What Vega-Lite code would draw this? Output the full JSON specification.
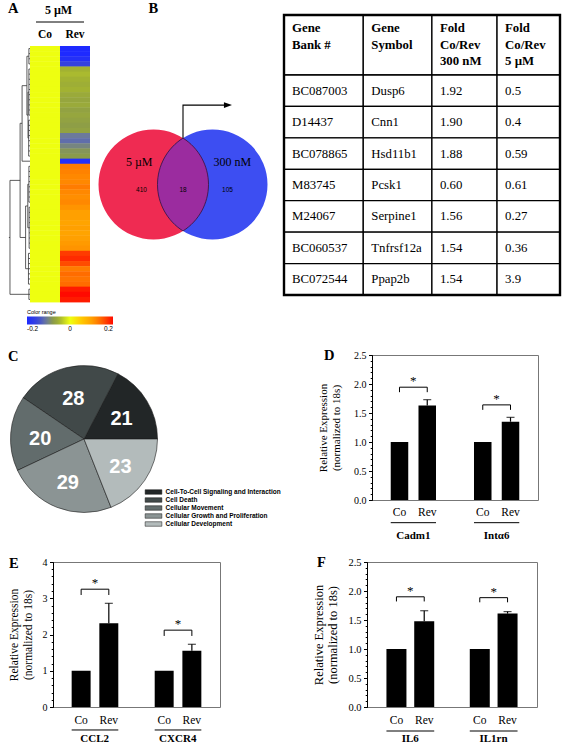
{
  "$schema": "https://vega.github.io/schema/vega-lite/v6.json",
  "background": "white",
  "padding": {"left": 8, "top": 0, "right": 0, "bottom": 0},
  "autosize": {"type": "pad"},
  "config": {"view": {"stroke": null}, "font": "Liberation Serif", "text": {"color": "black", "font": "Liberation Serif"}},
  "datasets": {
    "heat": [
      {"r":0,"Co":0,"Rev":-0.2,"lh":0.05},{"r":1,"Co":0,"Rev":-0.2,"lh":0.05},{"r":2,"Co":0,"Rev":-0.19,"lh":0.05},{"r":3,"Co":0,"Rev":-0.16,"lh":0.05},
      {"r":4,"Co":0,"Rev":-0.05,"lh":0.05},{"r":5,"Co":0,"Rev":-0.045,"lh":0.05},{"r":6,"Co":0,"Rev":-0.05,"lh":0.05},{"r":7,"Co":0,"Rev":-0.055,"lh":0.05},
      {"r":8,"Co":0,"Rev":-0.05,"lh":0.05},{"r":9,"Co":0,"Rev":-0.06,"lh":0.05},{"r":10,"Co":0,"Rev":-0.065,"lh":0.05},{"r":11,"Co":0,"Rev":-0.06,"lh":0.05},
      {"r":12,"Co":0,"Rev":-0.07,"lh":0.05},{"r":13,"Co":0,"Rev":-0.065,"lh":0.05},{"r":14,"Co":0,"Rev":-0.07,"lh":0.06},{"r":15,"Co":0,"Rev":-0.075,"lh":0.06},
      {"r":16,"Co":0,"Rev":-0.07,"lh":0.06},{"r":17,"Co":0,"Rev":-0.11,"lh":0.06},{"r":18,"Co":0,"Rev":-0.12,"lh":0.06},{"r":19,"Co":0,"Rev":-0.1,"lh":0.06},
      {"r":20,"Co":0,"Rev":-0.085,"lh":0.06},{"r":21,"Co":0,"Rev":-0.08,"lh":0.06},{"r":22,"Co":0,"Rev":-0.19,"lh":0.36},{"r":23,"Co":0,"Rev":0.13,"lh":0.05},
      {"r":24,"Co":0,"Rev":0.125,"lh":0.05},{"r":25,"Co":0,"Rev":0.12,"lh":0.05},{"r":26,"Co":0,"Rev":0.12,"lh":0.05},{"r":27,"Co":0,"Rev":0.13,"lh":0.05},
      {"r":28,"Co":0,"Rev":0.12,"lh":0.05},{"r":29,"Co":0,"Rev":0.115,"lh":0.05},{"r":30,"Co":0,"Rev":0.12,"lh":0.05},{"r":31,"Co":0,"Rev":0.11,"lh":0.04},
      {"r":32,"Co":0,"Rev":0.1,"lh":0.04},{"r":33,"Co":0,"Rev":0.1,"lh":0.04},{"r":34,"Co":0,"Rev":0.095,"lh":0.04},{"r":35,"Co":0,"Rev":0.1,"lh":0.04},
      {"r":36,"Co":0,"Rev":0.095,"lh":0.04},{"r":37,"Co":0,"Rev":0.1,"lh":0.04},{"r":38,"Co":0,"Rev":0.105,"lh":0.04},{"r":39,"Co":0,"Rev":0.11,"lh":0.04},
      {"r":40,"Co":0,"Rev":0.17,"lh":0.07},{"r":41,"Co":0,"Rev":0.18,"lh":0.07},{"r":42,"Co":0,"Rev":0.16,"lh":0.07},{"r":43,"Co":0,"Rev":0.13,"lh":0.07},
      {"r":44,"Co":0,"Rev":0.14,"lh":0.07},{"r":45,"Co":0,"Rev":0.135,"lh":0.07},{"r":46,"Co":0,"Rev":0.14,"lh":0.07},{"r":47,"Co":0,"Rev":0.19,"lh":0.05},
      {"r":48,"Co":0,"Rev":0.2,"lh":0.05},{"r":49,"Co":0,"Rev":0.19,"lh":0.05}
    ],
    "dendro": [
      {"h1":0.05,"h2":0.05,"r1":0.5,"r2":3.5},{"h1":0.05,"h2":0.05,"r1":4.5,"r2":13.5},{"h1":0.06,"h2":0.06,"r1":14.5,"r2":21.5},
      {"h1":0.09,"h2":0.09,"r1":9.0,"r2":18.0},{"h1":0.14,"h2":0.14,"r1":2.0,"r2":13.5},{"h1":0.36,"h2":0.36,"r1":7.75,"r2":22.5},
      {"h1":0.05,"h2":0.05,"r1":23.5,"r2":30.5},{"h1":0.04,"h2":0.04,"r1":31.5,"r2":39.5},{"h1":0.1,"h2":0.1,"r1":27.0,"r2":35.5},
      {"h1":0.07,"h2":0.07,"r1":40.5,"r2":46.5},{"h1":0.2,"h2":0.2,"r1":31.25,"r2":43.5},{"h1":0.45,"h2":0.45,"r1":15.1,"r2":37.4},
      {"h1":0.05,"h2":0.05,"r1":47.5,"r2":49.5},{"h1":0.91,"h2":0.91,"r1":26.25,"r2":48.5},
      {"h1":0.05,"h2":0.09,"r1":9.0,"r2":9.0},{"h1":0.06,"h2":0.09,"r1":18.0,"r2":18.0},{"h1":0.05,"h2":0.14,"r1":2.0,"r2":2.0},
      {"h1":0.09,"h2":0.14,"r1":13.5,"r2":13.5},{"h1":0.14,"h2":0.36,"r1":7.75,"r2":7.75},{"h1":0.05,"h2":0.1,"r1":27.0,"r2":27.0},
      {"h1":0.04,"h2":0.1,"r1":35.5,"r2":35.5},{"h1":0.1,"h2":0.2,"r1":31.25,"r2":31.25},{"h1":0.07,"h2":0.2,"r1":43.5,"r2":43.5},
      {"h1":0.36,"h2":0.45,"r1":15.1,"r2":15.1},{"h1":0.2,"h2":0.45,"r1":37.4,"r2":37.4},{"h1":0.45,"h2":0.91,"r1":26.25,"r2":26.25},
      {"h1":0.05,"h2":0.91,"r1":48.5,"r2":48.5},{"h1":0.91,"h2":0.96,"r1":37.4,"r2":37.4}
    ],
    "venn": [{"set":"5 µM","n":410},{"set":"both","n":18},{"set":"300 nM","n":105}],
    "table": [
      {"bank":"BC087003","sym":"Dusp6","f300":"1.92","f5":"0.5"},
      {"bank":"D14437","sym":"Cnn1","f300":"1.90","f5":"0.4"},
      {"bank":"BC078865","sym":"Hsd11b1","f300":"1.88","f5":"0.59"},
      {"bank":"M83745","sym":"Pcsk1","f300":"0.60","f5":"0.61"},
      {"bank":"M24067","sym":"Serpine1","f300":"1.56","f5":"0.27"},
      {"bank":"BC060537","sym":"Tnfrsf12a","f300":"1.54","f5":"0.36"},
      {"bank":"BC072544","sym":"Ppap2b","f300":"1.54","f5":"3.9"}
    ],
    "thead": [
      {"key":"bank","label":"Gene\nBank #"},{"key":"sym","label":"Gene\nSymbol"},
      {"key":"f300","label":"Fold\nCo/Rev\n300 nM"},{"key":"f5","label":"Fold\nCo/Rev\n5 µM"}
    ],
    "pie": [
      {"cat":"Cell-To-Cell Signaling and Interaction","n":21,"idx":1},
      {"cat":"Cell Death","n":28,"idx":2},
      {"cat":"Cellular Movement","n":20,"idx":3},
      {"cat":"Cellular Growth and Proliferation","n":29,"idx":4},
      {"cat":"Cellular Development","n":23,"idx":5}
    ],
    "bars": [
      {"panel":"D","gene":"Cadm1","cond":"Co","mean":1.0,"err":0},
      {"panel":"D","gene":"Cadm1","cond":"Rev","mean":1.63,"err":0.1},
      {"panel":"D","gene":"Intα6","cond":"Co","mean":1.0,"err":0},
      {"panel":"D","gene":"Intα6","cond":"Rev","mean":1.35,"err":0.075},
      {"panel":"E","gene":"CCL2","cond":"Co","mean":1.0,"err":0},
      {"panel":"E","gene":"CCL2","cond":"Rev","mean":2.31,"err":0.55},
      {"panel":"E","gene":"CXCR4","cond":"Co","mean":1.0,"err":0},
      {"panel":"E","gene":"CXCR4","cond":"Rev","mean":1.55,"err":0.18},
      {"panel":"F","gene":"IL6","cond":"Co","mean":1.0,"err":0},
      {"panel":"F","gene":"IL6","cond":"Rev","mean":1.48,"err":0.18},
      {"panel":"F","gene":"IL1rn","cond":"Co","mean":1.0,"err":0},
      {"panel":"F","gene":"IL1rn","cond":"Rev","mean":1.61,"err":0.035}
    ]
  },
  "spacing": 0,
  "vconcat": [
    {
      "spacing": 0, "bounds": "flush",
      "hconcat": [
        {
          "width": 22, "height": 287,
          "title": {"text": "A", "anchor": "start", "frame": "group", "offset": 0, "dx": 0, "dy": 12.5, "baseline": "alphabetic", "font": "Liberation Serif", "fontSize": 14.5, "fontWeight": "bold", "color": "black"},
          "layer": [
            {"data": {"name": "dendro"}, "mark": {"type": "rule", "color": "#333", "strokeWidth": 0.8},
             "encoding": {
               "x": {"field": "h1", "type": "quantitative", "scale": {"domain": [0, 1], "reverse": true, "nice": false, "zero": false}, "axis": null},
               "x2": {"field": "h2"},
               "y": {"field": "r1", "type": "quantitative", "scale": {"domain": [-6.05, 50], "reverse": true, "nice": false, "zero": false}, "axis": null},
               "y2": {"field": "r2"}}},
            {"data": {"name": "heat"}, "transform": [{"calculate": "datum.r + 0.5", "as": "rc"}, {"calculate": "0", "as": "h0"}],
             "mark": {"type": "rule", "color": "#333", "strokeWidth": 0.8},
             "encoding": {"x": {"field": "h0", "type": "quantitative"}, "x2": {"field": "lh"}, "y": {"field": "rc", "type": "quantitative"}}}
          ]
        },
        {
          "width": 60, "height": 287,
          "layer": [
            {"data": {"name": "heat"},
             "transform": [{"fold": ["Co", "Rev"], "as": ["cond", "v"]}, {"calculate": "datum.r + 1.08", "as": "r2"}],
             "mark": {"type": "rect", "strokeWidth": 0},
             "encoding": {
               "x": {"field": "cond", "type": "nominal", "scale": {"domain": ["Co", "Rev"], "paddingInner": 0, "paddingOuter": 0}, "axis": null},
               "y": {"field": "r", "type": "quantitative", "scale": {"domain": [-6.05, 50], "reverse": true, "nice": false, "zero": false}, "axis": null},
               "y2": {"field": "r2"},
               "color": {"field": "v", "type": "quantitative",
                 "scale": {"domain": [-0.2, -0.15, -0.11, -0.08, -0.05, 0, 0.05, 0.1, 0.13, 0.16, 0.2],
                           "range": ["#1e2aff", "#3a48d8", "#6c7a9c", "#8a9a4a", "#a2b232", "#eeff10", "#ffcc00", "#ffa000", "#ff7c00", "#ff4c00", "#ff0a00"], "interpolate": "rgb"},
                 "legend": {"orient": "none", "legendX": -3, "legendY": 295, "direction": "horizontal", "gradientLength": 86, "gradientThickness": 8,
                   "title": "Color range", "titleFont": "Liberation Sans", "titleFontSize": 5.5, "titleFontWeight": "normal", "titleColor": "black", "titlePadding": 1,
                   "labelFont": "Liberation Sans", "labelFontSize": 6.5, "labelColor": "black", "values": [-0.2, 0, 0.2], "labelOffset": 1, "gradientStrokeWidth": 0,
                   "labelExpr": "replace(format(datum.value, '.1~f'), '−', '-')"}}}},
            {"data": {"values": [{"cond": "Co"}, {"cond": "Rev"}]},
             "mark": {"type": "text", "fontWeight": "bold", "fontSize": 11.5, "baseline": "middle", "color": "black"},
             "encoding": {"x": {"field": "cond", "type": "nominal"}, "y": {"datum": -2.1}, "text": {"field": "cond"}}},
            {"data": {"values": [{"cond": "Rev", "lab": "5 µM"}]},
             "mark": {"type": "text", "fontWeight": "bold", "fontSize": 12, "baseline": "middle", "color": "black", "dx": -1.5},
             "encoding": {"x": {"field": "cond", "type": "nominal", "bandPosition": 0}, "y": {"datum": -7.12}, "text": {"field": "lab"}}},
            {"data": {"values": [{"a": "Co", "b": "Rev"}]},
             "mark": {"type": "rule", "color": "black", "strokeWidth": 1},
             "encoding": {"x": {"field": "a", "type": "nominal", "bandPosition": 0.2}, "x2": {"field": "b", "bandPosition": 0.8}, "y": {"datum": -4.68}}}
          ]
        },
        {"width": 33.5, "height": 10, "data": {"values": [{"e": 0}]}, "mark": {"type": "point", "opacity": 0}, "encoding": {}},
        {
          "width": 118, "height": 330.9,
          "view": {"stroke": "transparent"},
          "title": {"text": "B", "anchor": "start", "frame": "group", "offset": 0, "dx": 24.5, "dy": 12.5, "baseline": "alphabetic", "font": "Liberation Serif", "fontSize": 14.5, "fontWeight": "bold", "color": "black"},
          "data": {"name": "venn"},
          "layer": [
            {"transform": [{"filter": "datum.set !== 'both'"}],
             "mark": {"type": "point", "shape": "circle", "filled": true, "size": 12100, "opacity": 1, "strokeWidth": 0},
             "encoding": {
               "x": {"field": "set", "type": "nominal", "scale": {"type": "point", "domain": ["5 µM", "both", "300 nM"], "padding": 1, "align": 0.5}, "axis": null},
               "y": {"datum": 0, "type": "quantitative", "scale": {"domain": [-3.074, 3.229], "nice": false, "zero": false}, "axis": null},
               "color": {"field": "set", "type": "nominal", "scale": {"domain": ["5 µM", "300 nM"], "range": ["#ef2b52", "#3d4ef2"]}, "legend": null}}},
            {"transform": [{"filter": "datum.set === 'both'"}],
             "mark": {"type": "point", "shape": "M0,-0.844A1,1,0,0,1,0,0.844A1,1,0,0,1,0,-0.844Z", "filled": true, "size": 12100, "opacity": 1, "fill": "#9b2c9f", "stroke": "#3b1038", "strokeWidth": 0.8},
             "encoding": {"x": {"field": "set", "type": "nominal"}, "y": {"datum": 0, "type": "quantitative"}}},
            {"transform": [{"filter": "datum.set !== 'both'"}],
             "mark": {"type": "text", "fontSize": 12, "baseline": "middle", "color": "black", "align": {"expr": "datum.set === '5 µM' ? 'right' : 'left'"}, "dx": {"expr": "datum.set === '5 µM' ? -1 : 1"}},
             "encoding": {"x": {"field": "set", "type": "nominal"}, "y": {"datum": 0.43, "type": "quantitative"}, "text": {"field": "set"}}},
            {"mark": {"type": "text", "font": "Liberation Sans", "fontSize": 6.5, "baseline": "middle", "color": "black", "dx": {"expr": "datum.set === '5 µM' ? -12 : (datum.set === '300 nM' ? 15 : 0)"}},
             "encoding": {"x": {"field": "set", "type": "nominal"}, "y": {"datum": -0.105, "type": "quantitative"}, "text": {"field": "n"}}},
            {"transform": [{"filter": "datum.set === 'both'"}],
             "mark": {"type": "point", "shape": "M0,0V-1H1.27", "filled": false, "size": 4356, "stroke": "black", "strokeWidth": 1.1, "opacity": 1},
             "encoding": {"x": {"field": "set", "type": "nominal"}, "y": {"datum": 0.884, "type": "quantitative"}}},
            {"transform": [{"filter": "datum.set === 'both'"}],
             "mark": {"type": "point", "shape": "M1.24,-1.09L1.485,-1L1.24,-0.91Z", "filled": true, "size": 4356, "fill": "black", "opacity": 1, "strokeWidth": 0},
             "encoding": {"x": {"field": "set", "type": "nominal"}, "y": {"datum": 0.884, "type": "quantitative"}}}
          ]
        },
        {"width": 41.5, "height": 10, "data": {"values": [{"e": 0}]}, "mark": {"type": "point", "opacity": 0}, "encoding": {}},
        {
          "width": 276, "height": 280,
          "layer": [
            {"data": {"name": "thead"},
             "transform": [{"calculate": "indexof(['bank','sym','f300','f5'], datum.key)", "as": "c"}, {"calculate": "datum.c + 1", "as": "c2"},
               {"calculate": "0", "as": "t0"}, {"calculate": "1.909", "as": "t1"}],
             "mark": {"type": "rect", "fill": "white", "stroke": "black", "strokeWidth": 1.3},
             "encoding": {
               "x": {"field": "c", "type": "quantitative", "scale": {"type": "pow", "exponent": 0.9, "domain": [0, 4], "nice": false}, "axis": null},
               "x2": {"field": "c2"},
               "y": {"field": "t0", "type": "quantitative", "scale": {"domain": [0, 8.909], "reverse": true, "nice": false, "zero": false}, "axis": null},
               "y2": {"field": "t1"}}},
            {"data": {"name": "thead"},
             "transform": [{"calculate": "indexof(['bank','sym','f300','f5'], datum.key)", "as": "c"}, {"calculate": "0.541", "as": "ty"}],
             "mark": {"type": "text", "align": "left", "baseline": "alphabetic", "dx": 8, "fontSize": 12.8, "fontWeight": "bold", "lineBreak": "\n", "lineHeight": 16.5, "color": "black"},
             "encoding": {"x": {"field": "c", "type": "quantitative"}, "y": {"field": "ty", "type": "quantitative"}, "text": {"field": "label"}}},
            {"data": {"name": "table"},
             "transform": [{"window": [{"op": "row_number", "as": "rn"}]}, {"fold": ["bank", "sym", "f300", "f5"], "as": ["key", "value"]},
               {"calculate": "indexof(['bank','sym','f300','f5'], datum.key)", "as": "c"}, {"calculate": "datum.c + 1", "as": "c2"},
               {"calculate": "0.909 + datum.rn", "as": "y0"}, {"calculate": "datum.y0 + 1", "as": "y1"}],
             "mark": {"type": "rect", "fill": "white", "stroke": "black", "strokeWidth": 1.3},
             "encoding": {"x": {"field": "c", "type": "quantitative"}, "x2": {"field": "c2"}, "y": {"field": "y0", "type": "quantitative"}, "y2": {"field": "y1"}}},
            {"data": {"name": "table"},
             "transform": [{"window": [{"op": "row_number", "as": "rn"}]}, {"fold": ["bank", "sym", "f300", "f5"], "as": ["key", "value"]},
               {"calculate": "indexof(['bank','sym','f300','f5'], datum.key)", "as": "c"}, {"calculate": "0.909 + datum.rn + 0.5", "as": "yc"}],
             "mark": {"type": "text", "align": "left", "baseline": "middle", "dx": 8, "fontSize": 12.8, "color": "black"},
             "encoding": {"x": {"field": "c", "type": "quantitative"}, "y": {"field": "yc", "type": "quantitative"}, "text": {"field": "value"}}},
            {"data": {"values": [{"part": "frame"}]},
             "transform": [{"calculate": "0", "as": "fx0"}, {"calculate": "4", "as": "fx1"}, {"calculate": "0", "as": "fy0"}, {"calculate": "8.909", "as": "fy1"}],
             "mark": {"type": "rect", "filled": false, "stroke": "black", "strokeWidth": 2.4},
             "encoding": {"x": {"field": "fx0", "type": "quantitative"}, "x2": {"field": "fx1"}, "y": {"field": "fy0", "type": "quantitative"}, "y2": {"field": "fy1"}}}
          ]
        }
      ]
    },
    {
      "spacing": 0, "bounds": "flush",
      "hconcat": [
        {
          "width": 152, "height": 168,
          "title": {"text": "C", "anchor": "start", "frame": "group", "offset": 0, "dx": 0, "dy": 20, "baseline": "alphabetic", "font": "Liberation Serif", "fontSize": 14.5, "fontWeight": "bold", "color": "black"},
          "data": {"name": "pie"},
          "layer": [
            {"mark": {"type": "arc", "outerRadius": 73.5, "stroke": "#1b1b1b", "strokeWidth": 0.6},
             "encoding": {
               "theta": {"field": "n", "type": "quantitative", "stack": true, "scale": {"range": [1.5708, 7.854]}},
               "order": {"field": "idx", "type": "quantitative", "sort": "descending"},
               "color": {"field": "cat", "type": "nominal",
                 "scale": {"domain": ["Cell-To-Cell Signaling and Interaction", "Cell Death", "Cellular Movement", "Cellular Growth and Proliferation", "Cellular Development"],
                           "range": ["#222627", "#414949", "#626c6c", "#8b9494", "#b3bbbb"]},
                 "legend": {"orient": "none", "legendX": 141, "legendY": 472.5, "title": null, "symbolType": "M-2,-0.54H2V0.54H-2Z", "symbolSize": 69.7,
                   "symbolStrokeColor": "#111", "symbolStrokeWidth": 0.5, "labelFont": "Liberation Sans", "labelFontSize": 6.5, "labelFontWeight": "bold",
                   "labelColor": "black", "labelOffset": 7.6, "rowPadding": 0, "labelLimit": 300}}}},
            {"mark": {"type": "text", "radius": 44, "dy": 3, "font": "Liberation Sans", "fontSize": 20, "fontWeight": "bold", "color": "white", "baseline": "middle"},
             "encoding": {"theta": {"field": "n", "type": "quantitative", "stack": true}, "order": {"field": "idx", "type": "quantitative", "sort": "descending"}, "text": {"field": "n", "type": "quantitative"}}}
          ]
        },
        {"width": 212, "height": 198.4, "view": {"stroke": "transparent"}, "data": {"values": [{"e": 0}]}, "mark": {"type": "point", "opacity": 0}, "encoding": {}},
        {
          "width": 166, "height": 145,
          "view": {"stroke": "#777"},
          "title": {"text": "D", "anchor": "start", "frame": "group", "offset": 0, "dx": -48, "dy": 24, "baseline": "alphabetic", "font": "Liberation Serif", "fontSize": 14.5, "fontWeight": "bold", "color": "black"},
          "data": {"name": "bars"},
          "transform": [
            {"filter": "datum.panel === 'D'"},
            {"calculate": "datum.gene + '|' + datum.cond", "as": "key"},
            {"calculate": "datum.gene + '|Co'", "as": "coKey"},
            {"calculate": "datum.mean + datum.err", "as": "top"},
            {"joinaggregate": [{"op": "max", "field": "top", "as": "gtop"}], "groupby": ["gene"]},
            {"calculate": "datum.gtop + 0.215", "as": "b"},
            {"calculate": "datum.b - 0.086", "as": "bd"},
            {"calculate": "datum.b + 0.1", "as": "ast"}
          ],
          "resolve": {"axis": {"y": "independent"}},
          "layer": [
            {"mark": {"type": "bar", "color": "black"},
             "encoding": {
               "x": {"field": "key", "type": "nominal", "scale": {"domain": ["Cadm1|Co", "Cadm1|Rev", "gap", "Intα6|Co", "Intα6|Rev"], "paddingInner": 0.369, "paddingOuter": 0.675}, "axis": null},
               "y": {"field": "mean", "type": "quantitative", "scale": {"domain": [0, 2.5], "nice": false},
                 "axis": {"orient": "left", "values": [0, 0.5, 1, 1.5, 2, 2.5], "format": ".1f", "tickSize": 3.5,
                   "grid": false, "domainColor": "black", "tickColor": "black", "labelColor": "black", "labelFont": "Liberation Serif", "labelFontSize": 10,
                   "labelPadding": 2.5, "labelOverlap": false, "labelBound": false, "labelFlush": false,
                   "title": ["Relative Expression", "(normalized to 18s)"], "titleFont": "Liberation Serif", "titleFontSize": 11, "titleFontWeight": "normal",
                   "titleColor": "black", "titlePadding": 12, "titleLineHeight": 13.5}}}},
            {"transform": [{"filter": "datum.err > 0"}], "mark": {"type": "rule", "color": "black", "strokeWidth": 1.2},
             "encoding": {"x": {"field": "key", "type": "nominal"},
               "y": {"field": "mean", "type": "quantitative", "axis": {"orient": "left", "values": [0,0.1,0.2,0.3,0.4,0.5,0.6,0.7,0.8,0.9,1,1.1,1.2,1.3,1.4,1.5,1.6,1.7,1.8,1.9,2,2.1,2.2,2.3,2.4,2.5], "labels": false, "domain": false, "tickSize": 1.8, "tickColor": "black", "title": null, "grid": false}},
               "y2": {"field": "top"}}},
            {"transform": [{"filter": "datum.err > 0"}], "mark": {"type": "tick", "color": "black", "thickness": 1.2, "size": 8},
             "encoding": {"x": {"field": "key", "type": "nominal"}, "y": {"field": "top", "type": "quantitative", "axis": null}}},
            {"mark": {"type": "rule", "color": "black", "strokeWidth": 1},
             "encoding": {"x": {"field": "key", "type": "nominal"}, "y": {"field": "b", "type": "quantitative", "axis": null}, "y2": {"field": "bd"}}},
            {"transform": [{"filter": "datum.cond === 'Rev'"}], "mark": {"type": "rule", "color": "black", "strokeWidth": 1},
             "encoding": {"x": {"field": "coKey", "type": "nominal", "bandPosition": 0.5}, "x2": {"field": "key", "bandPosition": 0.5}, "y": {"field": "b", "type": "quantitative", "axis": null}}},
            {"transform": [{"filter": "datum.cond === 'Rev'"}], "mark": {"type": "text", "text": "*", "dx": -13.9, "fontSize": 13, "baseline": "middle", "color": "black"},
             "encoding": {"x": {"field": "key", "type": "nominal"}, "y": {"field": "ast", "type": "quantitative", "axis": null}}},
            {"mark": {"type": "text", "fontSize": 11.5, "baseline": "middle", "color": "black"},
             "encoding": {"x": {"field": "key", "type": "nominal"}, "y": {"datum": -0.229, "type": "quantitative", "axis": null}, "text": {"field": "cond"}}},
            {"transform": [{"filter": "datum.cond === 'Rev'"}], "mark": {"type": "rule", "color": "black", "strokeWidth": 1},
             "encoding": {"x": {"field": "coKey", "type": "nominal", "bandPosition": 0}, "x2": {"field": "key", "bandPosition": 1}, "y": {"datum": -0.391, "type": "quantitative", "axis": null}}},
            {"transform": [{"filter": "datum.cond === 'Rev'"}], "mark": {"type": "text", "dx": -13.9, "fontSize": 11, "fontWeight": "bold", "baseline": "middle", "color": "black"},
             "encoding": {"x": {"field": "key", "type": "nominal"}, "y": {"datum": -0.618, "type": "quantitative", "axis": null}, "text": {"field": "gene"}}}
          ]
        }
      ]
    },
    {
      "spacing": 0, "bounds": "flush",
      "hconcat": [
        {"width": 45, "height": 145, "data": {"values": [{"e": 0}]}, "mark": {"type": "point", "opacity": 0}, "encoding": {}},
        {
          "width": 167, "height": 145,
          "view": {"stroke": "#777"},
          "title": {"text": "E", "anchor": "start", "frame": "group", "offset": 0, "dx": -44, "dy": 25, "baseline": "alphabetic", "font": "Liberation Serif", "fontSize": 14.5, "fontWeight": "bold", "color": "black"},
          "data": {"name": "bars"},
          "transform": [
            {"filter": "datum.panel === 'E'"},
            {"calculate": "datum.gene + '|' + datum.cond", "as": "key"},
            {"calculate": "datum.gene + '|Co'", "as": "coKey"},
            {"calculate": "datum.mean + datum.err", "as": "top"},
            {"joinaggregate": [{"op": "max", "field": "top", "as": "gtop"}], "groupby": ["gene"]},
            {"calculate": "datum.gtop + 0.39", "as": "b"},
            {"calculate": "datum.b - 0.16", "as": "bd"},
            {"calculate": "datum.b + 0.17", "as": "ast"}
          ],
          "resolve": {"axis": {"y": "independent"}},
          "layer": [
            {"mark": {"type": "bar", "color": "black"},
             "encoding": {
               "x": {"field": "key", "type": "nominal", "scale": {"domain": ["CCL2|Co", "CCL2|Rev", "gap", "CXCR4|Co", "CXCR4|Rev"], "paddingInner": 0.315, "paddingOuter": 0.674}, "axis": null},
               "y": {"field": "mean", "type": "quantitative", "scale": {"domain": [0, 4], "nice": false},
                 "axis": {"orient": "left", "values": [0, 1, 2, 3, 4], "format": "d", "tickSize": 3.5,
                   "grid": false, "domainColor": "black", "tickColor": "black", "labelColor": "black", "labelFont": "Liberation Serif", "labelFontSize": 10,
                   "labelPadding": 2.5, "labelOverlap": false, "labelBound": false, "labelFlush": false,
                   "title": ["Relative Expression", "(normalized to 18s)"], "titleFont": "Liberation Serif", "titleFontSize": 11.5, "titleFontWeight": "normal",
                   "titleColor": "black", "titlePadding": 9, "titleLineHeight": 13.5}}}},
            {"transform": [{"filter": "datum.err > 0"}], "mark": {"type": "rule", "color": "black", "strokeWidth": 1.2},
             "encoding": {"x": {"field": "key", "type": "nominal"},
               "y": {"field": "mean", "type": "quantitative", "axis": {"orient": "left", "values": [0,0.2,0.4,0.6,0.8,1,1.2,1.4,1.6,1.8,2,2.2,2.4,2.6,2.8,3,3.2,3.4,3.6,3.8,4], "labels": false, "domain": false, "tickSize": 1.8, "tickColor": "black", "title": null, "grid": false}},
               "y2": {"field": "top"}}},
            {"transform": [{"filter": "datum.err > 0"}], "mark": {"type": "tick", "color": "black", "thickness": 1.2, "size": 8},
             "encoding": {"x": {"field": "key", "type": "nominal"}, "y": {"field": "top", "type": "quantitative", "axis": null}}},
            {"mark": {"type": "rule", "color": "black", "strokeWidth": 1},
             "encoding": {"x": {"field": "key", "type": "nominal"}, "y": {"field": "b", "type": "quantitative", "axis": null}, "y2": {"field": "bd"}}},
            {"transform": [{"filter": "datum.cond === 'Rev'"}], "mark": {"type": "rule", "color": "black", "strokeWidth": 1},
             "encoding": {"x": {"field": "coKey", "type": "nominal", "bandPosition": 0.5}, "x2": {"field": "key", "bandPosition": 0.5}, "y": {"field": "b", "type": "quantitative", "axis": null}}},
            {"transform": [{"filter": "datum.cond === 'Rev'"}], "mark": {"type": "text", "text": "*", "dx": -13.9, "fontSize": 13, "baseline": "middle", "color": "black"},
             "encoding": {"x": {"field": "key", "type": "nominal"}, "y": {"field": "ast", "type": "quantitative", "axis": null}}},
            {"mark": {"type": "text", "fontSize": 11.5, "baseline": "middle", "color": "black"},
             "encoding": {"x": {"field": "key", "type": "nominal"}, "y": {"datum": -0.381, "type": "quantitative", "axis": null}, "text": {"field": "cond"}}},
            {"transform": [{"filter": "datum.cond === 'Rev'"}], "mark": {"type": "rule", "color": "black", "strokeWidth": 1},
             "encoding": {"x": {"field": "coKey", "type": "nominal", "bandPosition": 0}, "x2": {"field": "key", "bandPosition": 1}, "y": {"datum": -0.634, "type": "quantitative", "axis": null}}},
            {"transform": [{"filter": "datum.cond === 'Rev'"}], "mark": {"type": "text", "dx": -14.1, "fontSize": 11, "fontWeight": "bold", "baseline": "middle", "color": "black"},
             "encoding": {"x": {"field": "key", "type": "nominal"}, "y": {"datum": -0.88, "type": "quantitative", "axis": null}, "text": {"field": "gene"}}}
          ]
        },
        {"width": 147, "height": 145, "data": {"values": [{"e": 0}]}, "mark": {"type": "point", "opacity": 0}, "encoding": {}},
        {
          "width": 170, "height": 145,
          "view": {"stroke": "#777"},
          "title": {"text": "F", "anchor": "start", "frame": "group", "offset": 0, "dx": -50, "dy": 24, "baseline": "alphabetic", "font": "Liberation Serif", "fontSize": 14.5, "fontWeight": "bold", "color": "black"},
          "data": {"name": "bars"},
          "transform": [
            {"filter": "datum.panel === 'F'"},
            {"calculate": "datum.gene + '|' + datum.cond", "as": "key"},
            {"calculate": "datum.gene + '|Co'", "as": "coKey"},
            {"calculate": "datum.mean + datum.err", "as": "top"},
            {"joinaggregate": [{"op": "max", "field": "top", "as": "gtop"}], "groupby": ["gene"]},
            {"calculate": "datum.gtop + 0.24", "as": "b"},
            {"calculate": "datum.b - 0.08", "as": "bd"},
            {"calculate": "datum.b + 0.1", "as": "ast"}
          ],
          "resolve": {"axis": {"y": "independent"}},
          "layer": [
            {"mark": {"type": "bar", "color": "black"},
             "encoding": {
               "x": {"field": "key", "type": "nominal", "scale": {"domain": ["IL6|Co", "IL6|Rev", "gap", "IL1rn|Co", "IL1rn|Rev"], "paddingInner": 0.28, "paddingOuter": 0.7}, "axis": null},
               "y": {"field": "mean", "type": "quantitative", "scale": {"domain": [0, 2.5], "nice": false},
                 "axis": {"orient": "left", "values": [0, 0.5, 1, 1.5, 2, 2.5], "format": ".1f", "tickSize": 3.5,
                   "grid": false, "domainColor": "black", "tickColor": "black", "labelColor": "black", "labelFont": "Liberation Serif", "labelFontSize": 10.5,
                   "labelPadding": 2.5, "labelOverlap": false, "labelBound": false, "labelFlush": false,
                   "title": ["Relative Expression", "(normalized to 18s)"], "titleFont": "Liberation Serif", "titleFontSize": 12.5, "titleFontWeight": "normal",
                   "titleColor": "black", "titlePadding": 8, "titleLineHeight": 14}}}},
            {"transform": [{"filter": "datum.err > 0"}], "mark": {"type": "rule", "color": "black", "strokeWidth": 1.2},
             "encoding": {"x": {"field": "key", "type": "nominal"},
               "y": {"field": "mean", "type": "quantitative", "axis": {"orient": "left", "values": [0,0.1,0.2,0.3,0.4,0.5,0.6,0.7,0.8,0.9,1,1.1,1.2,1.3,1.4,1.5,1.6,1.7,1.8,1.9,2,2.1,2.2,2.3,2.4,2.5], "labels": false, "domain": false, "tickSize": 1.8, "tickColor": "black", "title": null, "grid": false}},
               "y2": {"field": "top"}}},
            {"transform": [{"filter": "datum.err > 0"}], "mark": {"type": "tick", "color": "black", "thickness": 1.2, "size": 8},
             "encoding": {"x": {"field": "key", "type": "nominal"}, "y": {"field": "top", "type": "quantitative", "axis": null}}},
            {"mark": {"type": "rule", "color": "black", "strokeWidth": 1},
             "encoding": {"x": {"field": "key", "type": "nominal"}, "y": {"field": "b", "type": "quantitative", "axis": null}, "y2": {"field": "bd"}}},
            {"transform": [{"filter": "datum.cond === 'Rev'"}], "mark": {"type": "rule", "color": "black", "strokeWidth": 1},
             "encoding": {"x": {"field": "coKey", "type": "nominal", "bandPosition": 0.5}, "x2": {"field": "key", "bandPosition": 0.5}, "y": {"field": "b", "type": "quantitative", "axis": null}}},
            {"transform": [{"filter": "datum.cond === 'Rev'"}], "mark": {"type": "text", "text": "*", "dx": -13.9, "fontSize": 13, "baseline": "middle", "color": "black"},
             "encoding": {"x": {"field": "key", "type": "nominal"}, "y": {"field": "ast", "type": "quantitative", "axis": null}}},
            {"mark": {"type": "text", "fontSize": 11.5, "baseline": "middle", "color": "black"},
             "encoding": {"x": {"field": "key", "type": "nominal"}, "y": {"datum": -0.241, "type": "quantitative", "axis": null}, "text": {"field": "cond"}}},
            {"transform": [{"filter": "datum.cond === 'Rev'"}], "mark": {"type": "rule", "color": "black", "strokeWidth": 1},
             "encoding": {"x": {"field": "coKey", "type": "nominal", "bandPosition": 0}, "x2": {"field": "key", "bandPosition": 1}, "y": {"datum": -0.414, "type": "quantitative", "axis": null}}},
            {"transform": [{"filter": "datum.cond === 'Rev'"}], "mark": {"type": "text", "dx": -14, "fontSize": 11, "fontWeight": "bold", "baseline": "middle", "color": "black"},
             "encoding": {"x": {"field": "key", "type": "nominal"}, "y": {"datum": -0.56, "type": "quantitative", "axis": null}, "text": {"field": "gene"}}}
          ]
        }
      ]
    }
  ]
}
